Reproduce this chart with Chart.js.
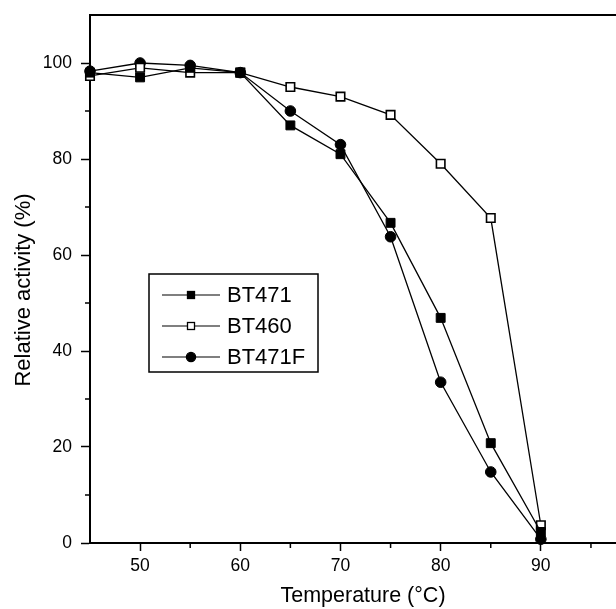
<!DOCTYPE html>
<html>
<head>
<meta charset="utf-8">
<script src="https://cdn.jsdelivr.net/npm/chart.js@4"></script>
<style>
html, body { margin: 0; padding: 0; background: #fff; overflow: hidden; }
</style>
</head>
<body>
<canvas id="c" width="616" height="609"></canvas>
<script>
const temps = [45, 50, 55, 60, 65, 70, 75, 80, 85, 90]
const bt471 = [98, 97, 99, 98, 87, 81, 66.7, 46.9, 20.8, 2.3]
const bt460 = [97.3, 99, 98, 98, 95, 93, 89.2, 79, 67.7, 3.7]
const bt471f = [98.3, 100, 99.5, 98, 90, 83, 63.8, 33.5, 14.8, 0.8]
const xTicks = [50, 60, 70, 80, 90]
const yTicks = [0, 20, 40, 60, 80, 100]
const xMinor = [55, 65, 75, 85, 95]
const yMinor = [10, 30, 50, 70, 90]
const xTitle = 'Temperature (\u00B0C)'
const yTitle = 'Relative activity (%)'

const FONT = 'Arial, "Liberation Sans", sans-serif'

function pts(arr) {
    let out = []
    for (let i = 0; i < temps.length; i++) {
        out.push({x: temps[i], y: arr[i]})
    }
    return out
}

// minor ticks, top frame line, axis titles and the boxed legend
// (the original frame runs past the right edge, so titles are placed by hand)
const extras = {
    id: 'extras',
    afterDraw(chart) {
        const c = chart.ctx
        const a = chart.chartArea
        const xs = chart.scales.x
        const ys = chart.scales.y
        c.save()
        c.strokeStyle = '#000'
        c.lineWidth = 1.5
        c.beginPath()
        for (let v of xMinor) {
            let px = xs.getPixelForValue(v)
            c.moveTo(px, a.bottom)
            c.lineTo(px, a.bottom + 5)
        }
        for (let v of yMinor) {
            let py = ys.getPixelForValue(v)
            c.moveTo(a.left, py)
            c.lineTo(a.left - 5, py)
        }
        c.stroke()
        c.lineWidth = 2
        c.beginPath()
        c.moveTo(a.left - 1, a.top)
        c.lineTo(a.right, a.top)
        c.stroke()

        c.fillStyle = '#000'
        c.textAlign = 'center'
        c.textBaseline = 'middle'
        c.font = '21.5px ' + FONT
        c.fillText(xTitle, 363, 596)

        c.save()
        c.translate(24, 290)
        c.rotate(-Math.PI / 2)
        c.font = '22px ' + FONT
        c.fillText(yTitle, 0, 0)
        c.restore()

        // legend
        const box = {x: 149, y: 274, w: 169, h: 98}
        c.lineWidth = 1.5
        c.strokeRect(box.x, box.y, box.w, box.h)
        const rows = [295, 326, 357]
        c.font = '22px ' + FONT
        c.textAlign = 'left'
        chart.data.datasets.forEach((ds, i) => {
            let y = rows[i]
            c.lineWidth = 1.2
            c.beginPath()
            c.moveTo(162, y)
            c.lineTo(220, y)
            c.stroke()
            c.fillStyle = ds.pointBackgroundColor
            c.lineWidth = 1.3
            if (ds.pointStyle === 'circle') {
                c.beginPath()
                c.arc(191, y, 4.6, 0, Math.PI * 2)
                c.fill()
                c.stroke()
            } else {
                c.fillRect(187.5, y - 3.5, 7, 7)
                c.strokeRect(187.5, y - 3.5, 7, 7)
            }
            c.fillStyle = '#000'
            c.fillText(ds.label, 227, y + 1)
        })
        c.restore()
    }
}

const ctx = document.getElementById('c')
const myChart = new Chart(ctx, {
    type: 'line',
    data: {
        datasets: [{
            label: 'BT471',
            data: pts(bt471),
            clip: false,
            borderColor: '#000',
            borderWidth: 1.3,
            pointStyle: 'rect',
            pointRadius: 6.3,
            pointBackgroundColor: '#000',
            pointBorderColor: '#000',
            pointBorderWidth: 1
        },
        {
            label: 'BT460',
            data: pts(bt460),
            clip: false,
            borderColor: '#000',
            borderWidth: 1.3,
            pointStyle: 'rect',
            pointRadius: 6,
            pointBackgroundColor: '#fff',
            pointBorderColor: '#000',
            pointBorderWidth: 1.6
        },
        {
            label: 'BT471F',
            data: pts(bt471f),
            clip: false,
            borderColor: '#000',
            borderWidth: 1.3,
            pointStyle: 'circle',
            pointRadius: 5.3,
            pointBackgroundColor: '#000',
            pointBorderColor: '#000',
            pointBorderWidth: 1
        }]
    },
    options: {
        responsive: false,
        devicePixelRatio: 1,
        animation: false,
        layout: {autoPadding: false, padding: {top: 15, left: 0, right: 0, bottom: 0}},
        plugins: {
            legend: {display: false},
            tooltip: {enabled: false}
        },
        scales: {
            x: {
                type: 'linear',
                min: 45,
                max: 97.5,
                afterBuildTicks: (s) => { s.ticks = xTicks.map(v => ({value: v})) },
                afterFit: (s) => {
                    s.height = 66
                    s.paddingLeft = 0
                    s.paddingRight = 0
                },
                grid: {drawOnChartArea: false, color: '#000', tickLength: 8, tickWidth: 1.5},
                border: {color: '#000', width: 2},
                ticks: {color: '#000', padding: 5, font: {size: 17.5, family: FONT}, maxRotation: 0}
            },
            y: {
                type: 'linear',
                min: 0,
                max: 110,
                afterBuildTicks: (s) => { s.ticks = yTicks.map(v => ({value: v})) },
                afterFit: (s) => {
                    s.width = 90
                    s.paddingTop = 0
                    s.paddingBottom = 0
                },
                grid: {drawOnChartArea: false, color: '#000', tickLength: 9, tickWidth: 1.5},
                border: {color: '#000', width: 2},
                ticks: {color: '#000', padding: 9, font: {size: 17.5, family: FONT}}
            }
        }
    },
    plugins: [extras]
})
</script>
</body>
</html>
